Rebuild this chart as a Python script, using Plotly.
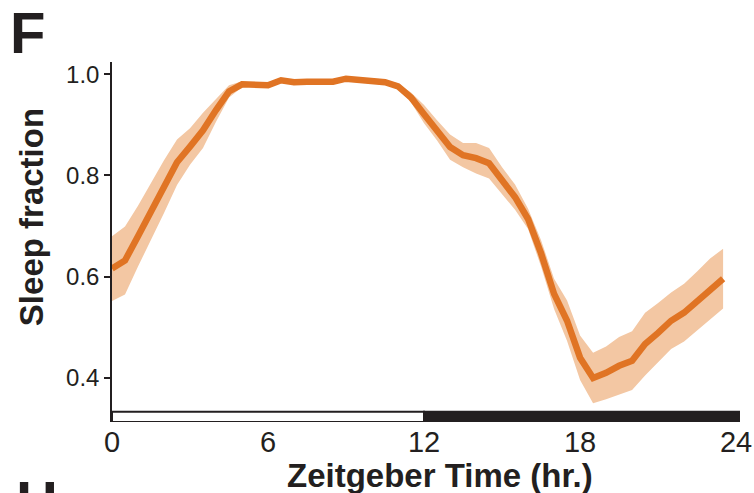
import plotly.graph_objects as go

# Zeitgeber time (hours), half-hour bins
zt = [i * 0.5 for i in range(48)]

sleep_mean = [0.616, 0.632, 0.680, 0.728, 0.778, 0.826, 0.857, 0.889, 0.929, 0.966,
              0.980, 0.979, 0.978, 0.988, 0.984, 0.985, 0.986, 0.985, 0.991, 0.989,
              0.988, 0.984, 0.976, 0.954, 0.921, 0.889, 0.856, 0.840, 0.834, 0.824,
              0.790, 0.757, 0.714, 0.646, 0.566, 0.513, 0.440, 0.400, 0.410, 0.424,
              0.434, 0.467, 0.489, 0.513, 0.529, 0.552, 0.576, 0.596]

sleep_err = [0.064, 0.067, 0.060, 0.056, 0.052, 0.045, 0.036, 0.035, 0.023, 0.012,
             0.006, 0.004, 0.004, 0.004, 0.004, 0.004, 0.004, 0.004, 0.004, 0.004,
             0.004, 0.004, 0.006, 0.010, 0.018, 0.020, 0.025, 0.024, 0.030, 0.030,
             0.026, 0.025, 0.020, 0.026, 0.030, 0.040, 0.044, 0.050, 0.052, 0.057,
             0.058, 0.062, 0.059, 0.056, 0.057, 0.058, 0.060, 0.059]

x_ticks = [0, 6, 12, 18, 24]
y_ticks = [0.4, 0.6, 0.8, 1.0]
light_period = [0, 12]
dark_period = [12, 24.15]

upper = [m + e for m, e in zip(sleep_mean, sleep_err)]
lower = [m - e for m, e in zip(sleep_mean, sleep_err)]

LINE = "#E07424"
BAND = "#F3C7A3"
INK = "#231F20"

fig = go.Figure()
fig.add_trace(go.Scatter(x=zt, y=lower, mode="lines", line=dict(width=0, color=BAND),
                         hoverinfo="skip", showlegend=False))
fig.add_trace(go.Scatter(x=zt, y=upper, mode="lines", line=dict(width=0, color=BAND),
                         fill="tonexty", fillcolor=BAND, hoverinfo="skip", showlegend=False))
fig.add_trace(go.Scatter(x=zt, y=sleep_mean, mode="lines", line=dict(width=6.5, color=LINE),
                         showlegend=False))

ybar0, ybar1 = 0.313, 0.333
fig.add_shape(type="rect", xref="x", yref="y", x0=light_period[0], x1=light_period[1],
              y0=ybar0, y1=ybar1, fillcolor="white", line=dict(color=INK, width=2))
fig.add_shape(type="rect", xref="x", yref="y", x0=dark_period[0], x1=dark_period[1],
              y0=ybar0, y1=ybar1, fillcolor=INK, line=dict(color=INK, width=2))

fig.update_layout(
    width=754, height=493,
    margin=dict(l=112, r=14, t=62, b=71),
    plot_bgcolor="white", paper_bgcolor="white",
    font=dict(family="Liberation Sans, Arial, sans-serif", color=INK),
    xaxis=dict(range=[0, 24.15], tickvals=x_ticks, ticktext=[str(v) for v in x_ticks],
               automargin=False,
               showgrid=False, zeroline=False, showline=False, ticks="",
               tickfont=dict(size=29, color=INK,
                             family="Liberation Sans Narrow, Arial Narrow, sans-serif")),
    yaxis=dict(range=[ybar0, 1.024], tickvals=y_ticks, ticktext=[f"{v:.1f}" for v in y_ticks],
               automargin=False,
               showgrid=False, zeroline=False, showline=True, linecolor=INK, linewidth=1.5,
               ticks="outside", ticklen=6, tickwidth=1.5, tickcolor=INK,
               tickfont=dict(size=24, color=INK)),
    annotations=[
        dict(text="<b>Zeitgeber Time (hr.)</b>", xref="paper", yref="paper",
             x=0.522, y=-0.15, xanchor="center", yanchor="middle", showarrow=False,
             font=dict(size=33, color=INK)),
        dict(text="<b>Sleep fraction</b>", xref="paper", yref="paper",
             x=-0.129, xanchor="center", y=0.569, yanchor="middle", textangle=-90,
             showarrow=False, font=dict(size=33, color=INK)),
        dict(text="<b>F</b>", xref="paper", yref="paper", x=-0.135, y=1.083,
             xanchor="center", yanchor="middle", showarrow=False,
             font=dict(size=58, color=INK)),
        dict(text="<b>H</b>", xref="paper", yref="paper", x=-0.119, y=-0.125,
             xanchor="center", yanchor="top", showarrow=False,
             font=dict(size=58, color=INK)),
    ],
)

fig.write_html("out.html")
